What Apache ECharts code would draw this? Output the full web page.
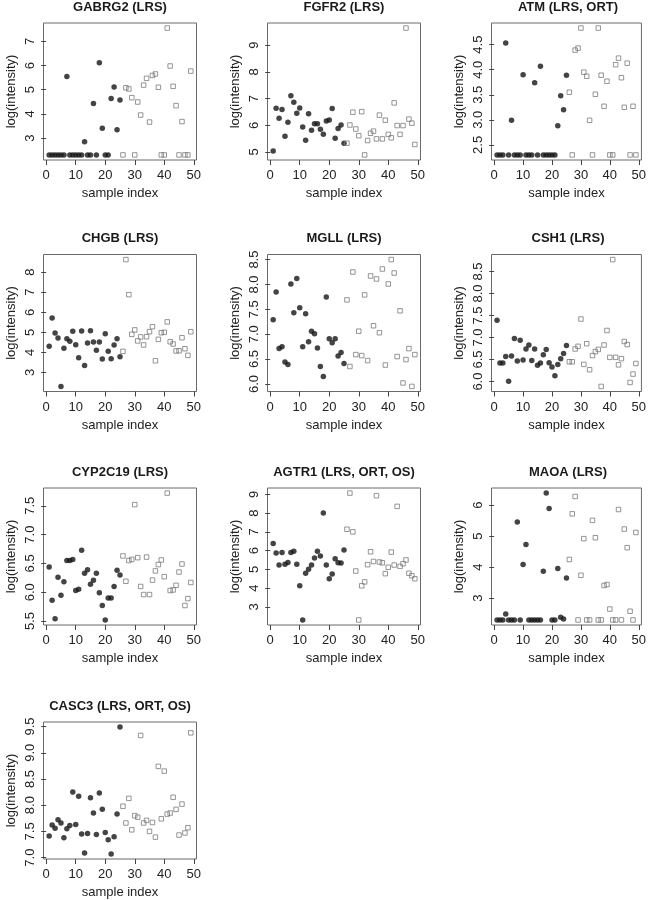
<!DOCTYPE html>
<html>
<head>
<meta charset="utf-8">
<script src="https://cdn.jsdelivr.net/npm/echarts@6/dist/echarts.min.js"></script>
<style>
html,body{margin:0;padding:0;background:#fff;}
#chart{width:649px;height:900px;}
</style>
</head>
<body>
<div id="chart"></div>
<script>
// ---- data ----
const titles = ['GABRG2 (LRS)', 'FGFR2 (LRS)', 'ATM (LRS, ORT)', 'CHGB (LRS)', 'MGLL (LRS)', 'CSH1 (LRS)',
  'CYP2C19 (LRS)', 'AGTR1 (LRS, ORT, OS)', 'MAOA (LRS)', 'CASC3 (LRS, ORT, OS)'];
const nFilled = 25; // samples 1..25 filled circles, 26..49 open squares
const xTicks = [0, 10, 20, 30, 40, 50];
const xLabel = 'sample index';
const yLabel = 'log(intensity)';

const GABRG2 = [2.30,2.30,2.30,2.30,2.30,2.30,5.55,2.30,2.30,2.30,2.30,2.30,2.85,2.30,2.30,4.43,2.30,6.12,3.40,2.30,2.30,4.64,5.11,3.34,4.57,
  2.30,5.08,5.03,4.67,2.30,4.49,3.95,5.19,5.47,3.66,5.59,5.65,5.10,2.30,2.30,7.55,5.98,5.14,4.34,2.30,3.68,2.30,2.30,5.77];
const FGFR2 = [5.04,6.64,6.26,6.59,5.59,6.11,7.11,6.86,6.45,6.65,5.94,5.44,6.43,5.81,6.06,6.06,5.85,5.66,6.16,6.20,6.63,5.51,5.88,6.01,5.33,
  5.33,6.01,6.49,5.86,5.61,6.51,4.89,5.43,5.70,5.78,5.49,6.38,5.49,6.19,5.66,5.53,6.84,5.99,5.66,5.99,9.64,6.23,6.08,5.28];
const ATM = [2.30,2.30,2.30,4.53,2.30,2.99,2.30,2.30,2.30,3.90,2.30,2.30,2.30,3.74,2.30,4.07,2.30,2.30,2.30,2.30,2.30,2.88,3.48,3.20,3.89,
  3.55,2.30,4.39,4.43,4.83,3.95,3.87,2.99,2.30,3.51,4.83,3.89,3.27,3.77,2.30,2.30,4.10,4.23,3.84,3.25,4.13,2.30,3.27,2.30];
const CHGB = [4.30,5.72,4.97,4.72,2.30,4.20,4.68,4.55,5.05,4.38,3.73,5.07,3.35,4.47,5.08,4.52,4.10,4.52,3.67,4.93,4.05,3.68,4.37,4.68,3.78,
  4.05,8.63,6.88,4.90,5.12,4.57,4.77,4.37,4.78,5.03,5.28,3.58,4.65,4.98,5.00,5.52,4.53,4.42,4.07,4.08,4.73,4.18,3.85,5.03];
const MGLL = [7.29,7.85,6.71,6.75,6.44,6.39,8.01,7.43,8.12,7.53,6.75,7.41,6.85,7.06,7.01,6.72,6.35,6.15,7.75,6.91,6.83,6.91,6.56,6.63,6.41,
  7.69,6.35,8.25,6.59,7.06,6.57,7.79,6.47,8.17,7.17,8.11,7.03,8.31,6.38,8.01,8.50,8.23,6.55,7.47,6.02,6.49,6.71,5.95,6.59];
const CSH1 = [7.39,6.42,6.42,6.57,6.01,6.58,6.98,6.47,6.94,6.49,6.74,6.83,6.48,6.74,6.37,6.42,6.61,6.73,6.43,6.33,6.13,6.39,6.52,6.64,6.82,
  6.45,6.45,6.74,6.80,7.42,6.39,6.86,6.27,6.59,6.68,6.73,5.89,6.83,7.16,6.55,8.77,6.55,6.38,6.52,6.91,6.84,5.98,6.17,6.41];
const CYP2C19 = [6.44,5.86,5.54,6.26,5.95,6.18,6.55,6.55,6.57,6.03,6.05,6.73,6.33,6.39,6.14,6.21,6.33,5.99,5.77,5.52,5.90,5.90,6.10,6.38,6.30,
  6.63,6.19,6.55,6.57,7.52,6.60,6.10,5.96,6.61,5.96,6.21,6.37,6.48,6.56,6.27,7.72,6.03,6.04,6.12,6.35,6.49,5.77,5.89,6.17];
const AGTR1 = [6.38,5.87,5.23,5.90,5.27,5.37,5.90,5.96,5.27,4.13,2.30,4.79,5.00,5.23,5.60,5.96,5.71,8.01,5.23,4.50,4.75,5.57,5.35,5.34,6.03,
  7.14,9.07,7.00,4.91,2.30,4.12,4.33,5.25,5.94,5.42,8.93,5.39,5.35,4.77,5.11,5.92,5.23,8.36,5.16,5.30,5.50,4.79,4.66,4.50];
const MAOA = [2.30,2.30,2.30,2.49,2.30,2.30,2.30,5.46,2.30,4.09,4.73,2.30,2.30,2.30,2.30,2.30,3.87,6.39,5.89,2.30,2.30,3.96,2.39,2.33,3.65,
  4.25,5.72,6.28,2.30,3.74,4.92,2.30,2.30,5.51,4.95,2.30,2.30,3.41,3.44,2.65,2.30,2.30,5.86,2.30,5.23,4.63,2.58,2.30,5.12];
const CASC3 = [7.41,7.62,7.56,7.72,7.66,7.38,7.55,7.61,8.25,7.63,8.17,7.45,7.09,7.46,8.14,7.85,7.44,8.23,7.92,7.48,7.34,7.07,7.40,7.83,9.49,
  7.98,7.66,8.13,7.53,7.80,7.77,9.33,7.66,7.71,7.50,7.67,7.39,8.74,7.74,8.65,7.83,7.85,8.15,7.92,7.43,8.02,7.47,7.57,9.38];

const panelValues = [GABRG2, FGFR2, ATM, CHGB, MGLL, CSH1, CYP2C19, AGTR1, MAOA, CASC3];

const yTicks = [
  [3,4,5,6,7],
  [5,6,7,8,9],
  [2.5,3,3.5,4,4.5],
  [3,4,5,6,7,8],
  [6,6.5,7,7.5,8,8.5],
  [6,6.5,7,7.5,8,8.5],
  [5.5,6,6.5,7,7.5],
  [3,4,5,6,7,8,9],
  [3,4,5,6],
  [7,7.5,8,8.5,9,9.5]
];

// ---- layout ----
const colLeft = [43.5, 267.5, 491.5];
const rowTop = [23, 254.5, 488, 722];
const boxW = 153, boxH = 137;
const FONT = 'Liberation Sans, Arial, Helvetica, sans-serif';
const boxColor = '#6a6a6a';

const grids = [], xAxes = [], yAxes = [], series = [], graphics = [];

panelValues.forEach((vals, p) => {
  const col = p % 3, row = Math.floor(p / 3);
  const left = colLeft[col], top = rowTop[row];
  grids.push({left: left, top: top, width: boxW, height: boxH, show: true,
    borderColor: boxColor, borderWidth: 1, backgroundColor: 'transparent', containLabel: false});

  const n = vals.length;
  const xr = (n - 1) * 0.04;
  xAxes.push({
    type: 'value', gridIndex: p, min: 1 - xr, max: n + xr,
    name: xLabel, nameLocation: 'middle', nameGap: 27,
    nameTextStyle: {fontFamily: FONT, fontSize: 13, color: '#222'},
    axisLine: {show: false},
    splitLine: {show: false},
    axisTick: {show: true, length: 5, inside: false, lineStyle: {color: '#444', width: 1}, customValues: xTicks},
    axisLabel: {show: true, margin: 9, fontFamily: FONT, fontSize: 13, color: '#222', customValues: xTicks,
      formatter: v => String(v)}
  });

  const lo = Math.min(...vals), hi = Math.max(...vals);
  const pad = (hi - lo) * 0.04;
  const ticks = yTicks[p];
  const dec = ticks.some(t => Math.round(t) !== t);
  yAxes.push({
    type: 'value', gridIndex: p, min: lo - pad, max: hi + pad,
    name: yLabel, nameLocation: 'middle', nameGap: 26, nameRotate: 90,
    nameTextStyle: {fontFamily: FONT, fontSize: 13, color: '#222'},
    axisLine: {show: false},
    splitLine: {show: false},
    axisTick: {show: true, length: 5, lineStyle: {color: '#444', width: 1}, customValues: ticks},
    axisLabel: {show: true, rotate: 90, margin: 7, fontFamily: FONT, fontSize: 13, color: '#222', customValues: ticks,
      formatter: v => dec ? Number(v).toFixed(1) : String(Math.round(v))}
  });

  const filled = [], open = [];
  vals.forEach((v, i) => { (i < nFilled ? filled : open).push([i + 1, v]); });
  series.push({type: 'scatter', xAxisIndex: p, yAxisIndex: p, data: filled, symbol: 'circle', symbolSize: 5.5,
    itemStyle: {color: '#151515'}, silent: true, animation: false});
  series.push({type: 'scatter', xAxisIndex: p, yAxisIndex: p, data: open, symbol: 'rect', symbolSize: 4.5,
    itemStyle: {color: 'rgba(255,255,255,0)', borderColor: '#7a7a7a', borderWidth: 1}, silent: true, animation: false});

  graphics.push({type: 'text', x: left + boxW / 2, y: top - 16,
    style: {text: titles[p], fontFamily: FONT, fontSize: 13, fontWeight: 'bold', fill: '#1a1a1a',
      align: 'center', verticalAlign: 'middle'}});
});

const chart = echarts.init(document.getElementById('chart'), null, {renderer: 'canvas'});
chart.setOption({
  backgroundColor: '#ffffff',
  animation: false,
  grid: grids,
  xAxis: xAxes,
  yAxis: yAxes,
  series: series,
  graphic: graphics
});
</script>
</body>
</html>
